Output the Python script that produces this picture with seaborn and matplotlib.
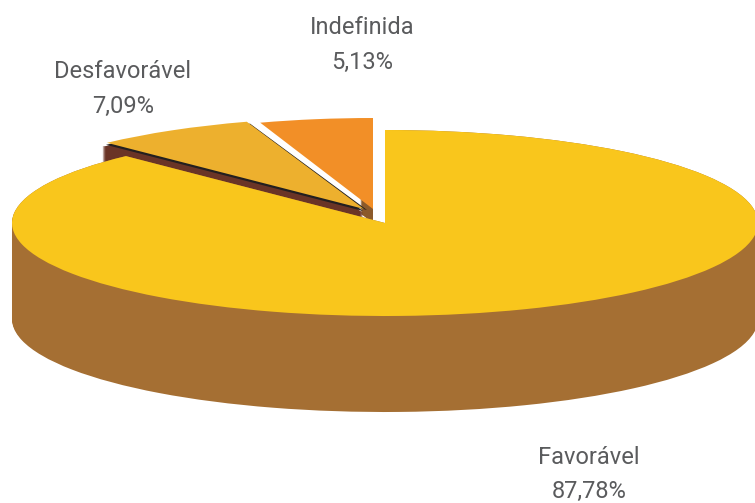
import matplotlib
matplotlib.use("Agg")
import matplotlib.pyplot as plt
import seaborn as sns

categories = ["Favorável", "Desfavorável", "Indefinida"]
shares = [87.78, 7.09, 5.13]

top_colors = ["#F9C61C", "#EDB02E", "#F28F27"]
side_colors = ["#A56F33", "#6A3426", "#8B5A2B"]

sns.set_theme(style="white")
plt.rcParams["font.family"] = ["Roboto", "DejaVu Sans"]

W, H = 755, 503
fig = plt.figure(figsize=(W / 100, H / 100), dpi=100, facecolor="white")


def pie_layer(index, color, cx, cy, rx, ry, depth=0):
    """Draw slice `index` on its own axes, stacked `depth` px downward."""
    ax = fig.add_axes([0, 0, 1, 1])
    for d in range(depth, -1, -1):
        wedges, _ = ax.pie(shares, colors=[color] * 3, startangle=90,
                           counterclock=False, center=(0, -d / ry),
                           wedgeprops=dict(linewidth=0))
        for i, w in enumerate(wedges):
            w.set_visible(i == index)
    ax.set_aspect("auto")
    ax.set_xlim(-cx / rx, (W - cx) / rx)
    ax.set_ylim((cy - H) / ry, cy / ry)
    ax.set_axis_off()
    return ax


# Exploded slices: side walls first, then tops
pie_layer(2, side_colors[2], 373, 209, 40, 10, depth=14)
pie_layer(2, top_colors[2], 373, 209, 356, 91)
pie_layer(1, side_colors[1], 363, 213, 375, 92, depth=20)
pie_layer(1, "#231F20", 363, 211, 370, 92)
pie_layer(1, "#231F20", 367, 210, 369, 91)
pie_layer(1, top_colors[1], 364, 209, 370, 92)

# Main slice: side wall, then top
pie_layer(0, side_colors[0], 385, 223, 373, 93, depth=96)
pie_layer(0, top_colors[0], 385, 223, 373, 93)

label_pos = [(589, 457, 491), (123, 72, 106), (362, 28, 62)]
for name, val, (x, y1, y2) in zip(categories, shares, label_pos):
    for txt, y in ((name, y1), (f"{val:.2f}".replace(".", ",") + "%", y2)):
        fig.text(x / W, 1 - y / H, txt, ha="center", va="center",
                 fontsize=17, color="#5A5B5D")

fig.savefig("out.png", dpi=100)
